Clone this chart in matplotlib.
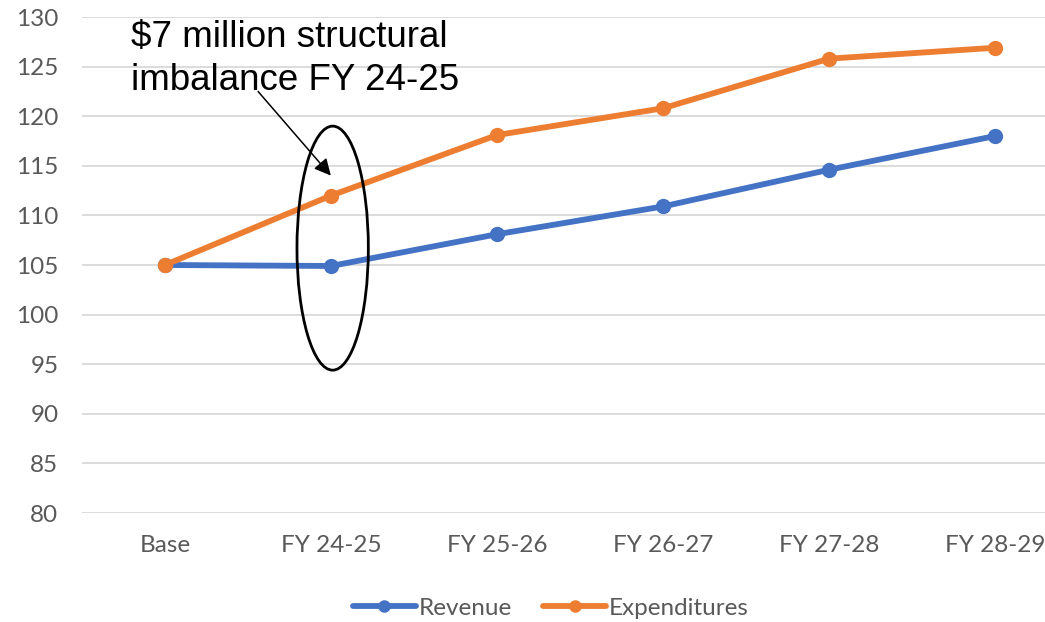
import matplotlib.pyplot as plt
from matplotlib.patches import Ellipse

categories = ['Base', 'FY 24-25', 'FY 25-26', 'FY 26-27', 'FY 27-28', 'FY 28-29']
revenue = [105.0, 104.9, 108.1, 110.9, 114.6, 118.0]
expenditures = [105.0, 112.0, 118.1, 120.8, 125.8, 126.9]
y_ticks = list(range(80, 131, 5))

blue = '#4472C4'
orange = '#ED7D31'
grey = '#595959'

plt.rcParams['font.family'] = ['Lato', 'DejaVu Sans']

fig = plt.figure(figsize=(10.45, 6.22), dpi=100)
# plot area runs a bit past the right edge, like the cropped original
ax = fig.add_axes([82 / 1045, 109 / 622, 996 / 1045, 496 / 622])

x = list(range(len(categories)))
ax.plot(x, revenue, color=blue, lw=4.2, marker='o', ms=10, label='Revenue',
        solid_capstyle='round', zorder=3)
ax.plot(x, expenditures, color=orange, lw=4.2, marker='o', ms=10, label='Expenditures',
        solid_capstyle='round', zorder=3)

ax.set_xlim(-0.5, 5.5)
ax.set_ylim(80, 130)
ax.set_yticks(y_ticks)
ax.set_xticks(x)
ax.set_xticklabels(categories)
ax.tick_params(axis='both', length=0, colors=grey, labelsize=17.5)
ax.tick_params(axis='x', pad=16)
ax.tick_params(axis='y', pad=17)
ax.grid(axis='y', color='#D9D9D9', lw=1.3)
ax.set_axisbelow(True)
for s in ax.spines.values():
    s.set_visible(False)

# callout: ellipse round FY 24-25 plus arrow and label
ax.add_patch(Ellipse((1.01, 106.7), 0.43, 24.6, fill=False, ec='black', lw=2, zorder=4))
ax.annotate('', xy=(1.01, 113.8), xytext=(0.55, 122.7),
            arrowprops=dict(arrowstyle='-|>', color='black', lw=1.1, mutation_scale=25),
            zorder=5)
ax.text(131 / 1045, 1 - 20 / 622, '$7 million structural\nimbalance FY 24-25',
        transform=fig.transFigure, ha='left', va='top', fontsize=26.5,
        family=['Liberation Sans', 'DejaVu Sans'], linespacing=1.3, color='black')

leg = fig.legend(loc='center', bbox_to_anchor=(0.527, 1 - 608 / 622), ncol=2, frameon=False,
                 fontsize=17.5, handlelength=2.6, columnspacing=1.3, handletextpad=0.1,
                 markerscale=0.8)
for t in leg.get_texts():
    t.set_color(grey)

fig.savefig('out.png', dpi=100)
